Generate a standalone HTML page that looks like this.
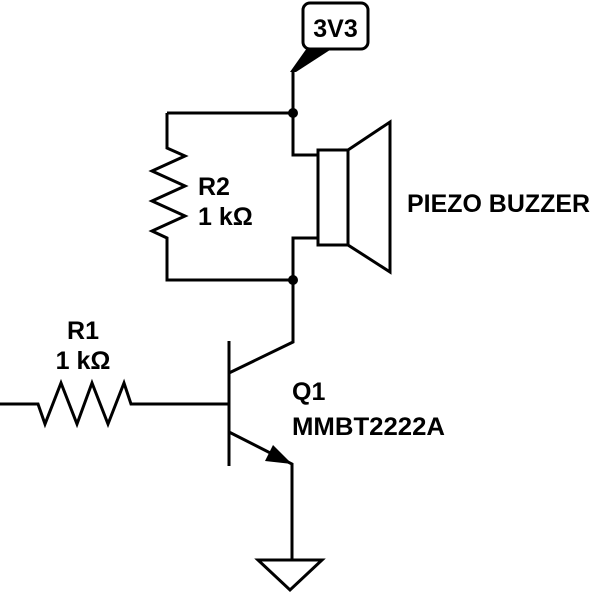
<!DOCTYPE html>
<html><head><style>
body{margin:0;background:#fff;}
</style></head><body>
<svg width="600" height="596" viewBox="0 0 600 596" xmlns="http://www.w3.org/2000/svg">
<g fill="none" stroke="#000" stroke-width="3" stroke-linejoin="miter">
<rect x="303" y="3" width="65" height="46" rx="7" ry="7"/>
<polyline points="293,113 293,72"/>
<polyline points="167,113 293,113"/>
<polyline points="167,113 167,148 185,156 152,171 185,186 152,201 185,216 152,231 167,238 167,280 293,280"/>
<polyline points="293,113 293,155 318,155"/>
<polyline points="293,280 293,238 318,238"/>
<rect x="318" y="150" width="30" height="95"/>
<polygon points="348,150 390,122 390,272 348,245"/>
<polyline points="293,280 293,342 229,373"/>
<line x1="229" y1="341" x2="229" y2="466"/>
<polyline points="0,404 38,404 45,424 61,383 77,424 92,383 108,424 124,383 131,404 229,404"/>
<polyline points="229,432 292,464 292,560"/>
<polygon points="258,560 322,560 290,590"/>
</g>
<polygon points="307,48 333,48 296,72 290,72" fill="#000"/>
<circle cx="293" cy="113" r="5" fill="#000"/>
<circle cx="293" cy="280" r="5" fill="#000"/>
<polygon points="292,464 265,461 273,445" fill="#000"/>
<g font-family="Liberation Sans, Arial, sans-serif" font-weight="bold" font-size="25" fill="#000">
<text x="335.5" y="37" text-anchor="middle">3V3</text>
<text x="198" y="195">R2</text>
<text x="198" y="225">1 kΩ</text>
<text x="83" y="339" text-anchor="middle">R1</text>
<text x="83" y="369" text-anchor="middle">1 kΩ</text>
<text x="292" y="400">Q1</text>
<text x="292" y="435" textLength="153" lengthAdjust="spacingAndGlyphs">MMBT2222A</text>
<text x="407" y="212" textLength="183" lengthAdjust="spacingAndGlyphs">PIEZO BUZZER</text>
</g>
</svg>
</body></html>
